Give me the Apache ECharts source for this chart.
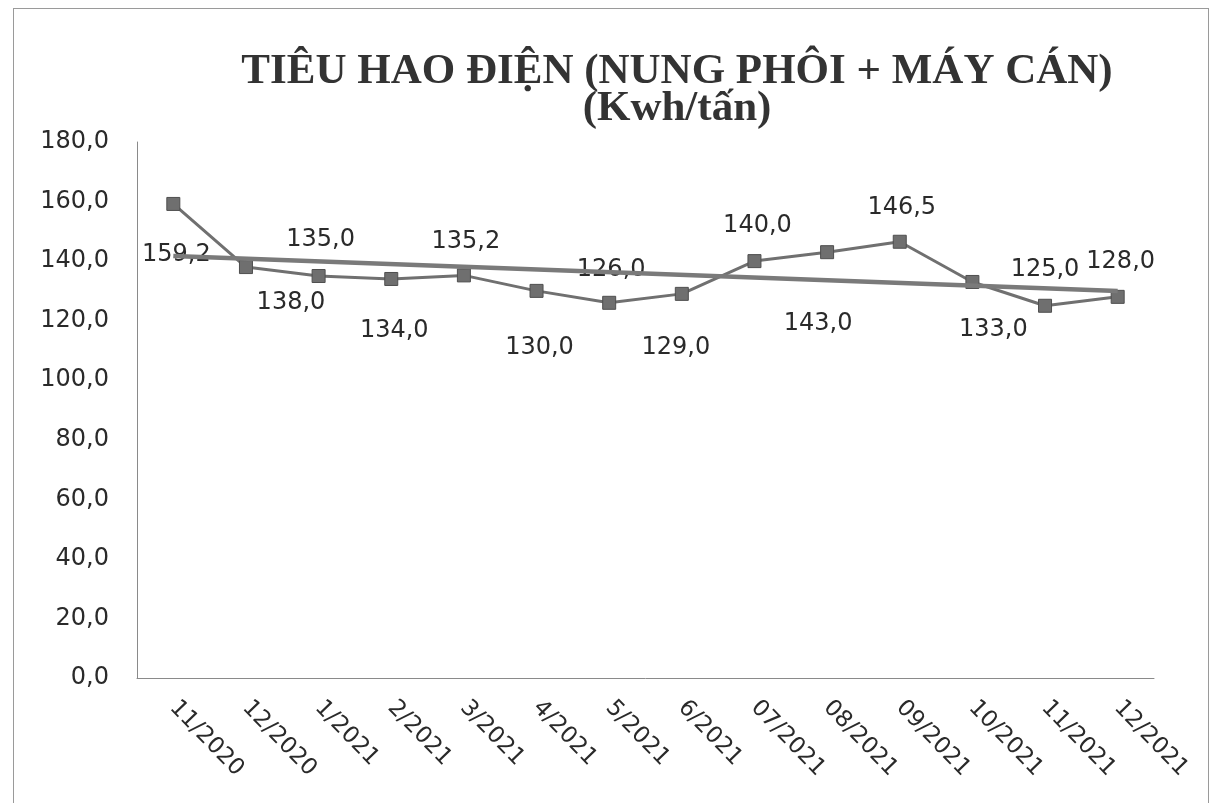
<!DOCTYPE html>
<html>
<head>
<meta charset="utf-8">
<script src="https://cdn.jsdelivr.net/npm/echarts@6/dist/echarts.min.js"></script>
<style>
	html, body { margin: 0; padding: 0; background: #fff; }
	#frame { position: absolute; left: 13px; top: 8px; width: 1196px; height: 800px; border: 1px solid #9a9a9a; box-sizing: border-box; }
	#main { position: absolute; left: 0; top: 0; width: 1217px; height: 803px; }
</style>
</head>
<body>
<div id="frame"></div>
<div id="main"></div>
<script>
	// số liệu
	var months = ['11/2020', '12/2020', '1/2021', '2/2021', '3/2021', '4/2021', '5/2021', '6/2021',
		'07/2021', '08/2021', '09/2021', '10/2021', '11/2021', '12/2021'];
	var consumption = [159.2, 138.0, 135.0, 134.0, 135.2, 130.0, 126.0, 129.0, 140.0, 143.0, 146.5, 133.0, 125.0, 128.0];
	// đường xu hướng: giá trị đầu và cuối
	var trendEnds = [141.7, 130.0];
	var yTicks = [0, 20, 40, 60, 80, 100, 120, 140, 160, 180];

	// vị trí nhãn (dx, dy) so với điểm, cho giống bản gốc
	var labelOffsets = [[3, 51], [45, 36], [2, -36], [3, 52], [2, -34], [3, 57], [2, -33],
		[-6, 54], [3, -35], [-9, 72], [2, -34], [21, 48], [0, -36], [3, -35]];

	function fmt(v) {
		return Number(v).toFixed(1).replace('.', ',');
	}

	var chart = echarts.init(document.getElementById('main'));

	var option = {
		animation: false,
		title: {
			text: 'TIÊU HAO ĐIỆN (NUNG PHÔI + MÁY CÁN)\n(Kwh/tấn)',
			left: 672,
			top: 48,
			textAlign: 'center',
			textStyle: {
				fontFamily: 'Liberation Serif',
				fontWeight: 'bold',
				fontSize: 43,
				lineHeight: 37,
				color: '#333'
			}
		},
		grid: {
			left: 137,
			right: 63,
			top: 142,
			bottom: 125
		},
		xAxis: {
			type: 'category',
			data: months,
			boundaryGap: true,
			axisLine: { lineStyle: { color: '#8a8a8a', width: 1 } },
			axisTick: { show: false },
			axisLabel: {
				interval: 0,
				rotate: -46,
				margin: 26,
				fontFamily: 'DejaVu Sans',
				fontSize: 23,
				color: '#2a2a2a'
			}
		},
		yAxis: {
			type: 'value',
			min: yTicks[0],
			max: yTicks[yTicks.length - 1],
			interval: 20,
			splitLine: { show: false },
			axisLine: { show: true, lineStyle: { color: '#8a8a8a', width: 1 } },
			axisTick: { show: false },
			axisLabel: {
				margin: 28,
				fontFamily: 'DejaVu Sans',
				fontSize: 24,
				color: '#2a2a2a',
				formatter: fmt
			}
		},
		series: [{
				name: 'Tiêu hao điện',
				type: 'line',
				data: consumption.map(function(v, i) {
					return {
						value: v,
						label: { offset: labelOffsets[i] }
					};
				}),
				symbol: 'rect',
				symbolSize: 13,
				itemStyle: { color: '#6f6f6f', borderColor: '#4f4f4f', borderWidth: 1 },
				lineStyle: { color: '#707070', width: 3 },
				label: {
					show: true,
					position: 'inside',
					fontFamily: 'DejaVu Sans',
					fontSize: 24,
					color: '#2a2a2a',
					formatter: function(p) {
						return fmt(p.value);
					}
				},
				z: 2
			},
			{
				name: 'Xu hướng',
				type: 'line',
				data: [[months[0], trendEnds[0]], [months[months.length - 1], trendEnds[1]]],
				symbol: 'none',
				lineStyle: { color: '#7a7a7a', width: 4.5 },
				silent: true,
				z: 3
			}
		]
	};

	chart.setOption(option);
</script>
</body>
</html>
